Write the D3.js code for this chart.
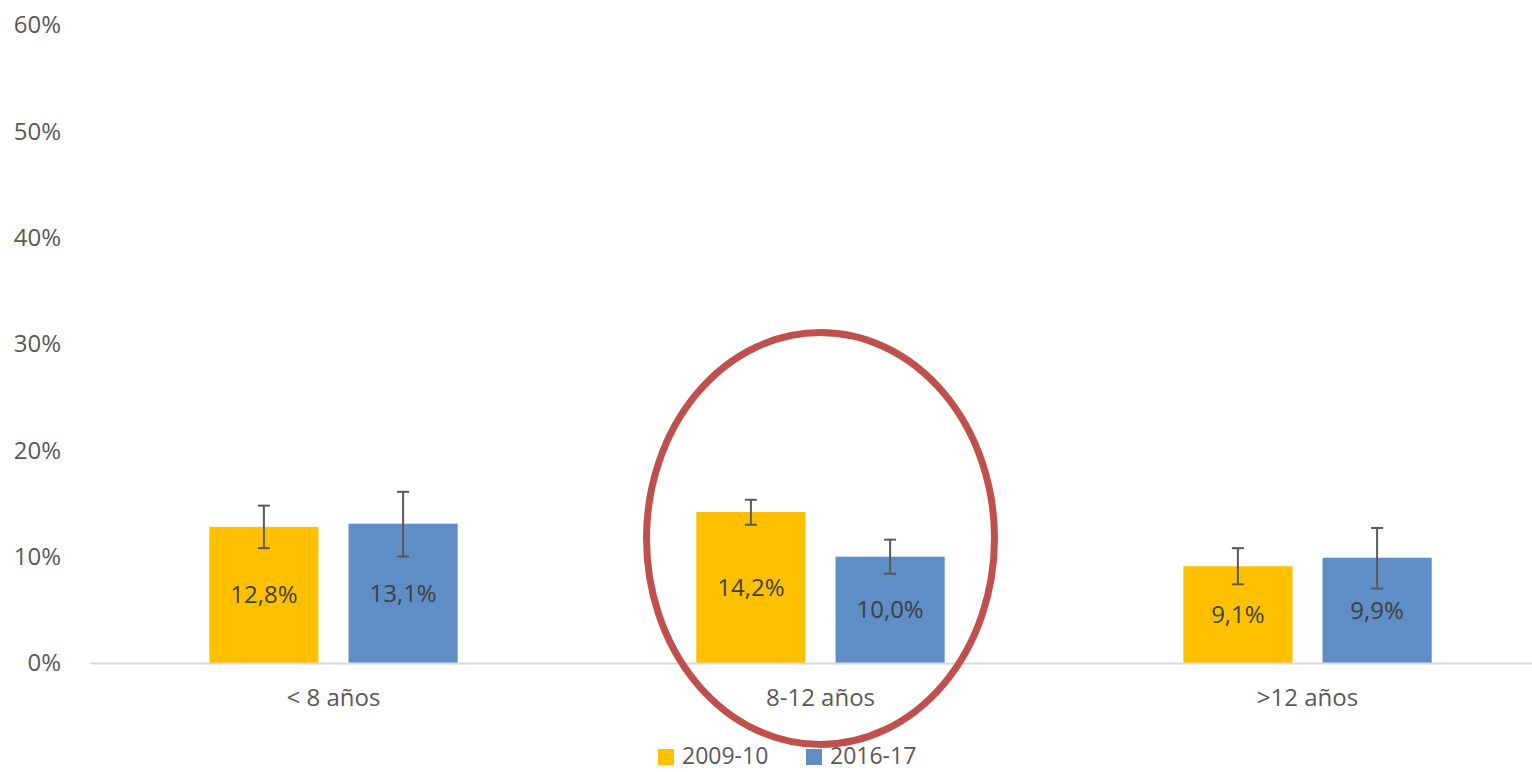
<!DOCTYPE html>
<html>
<head>
<meta charset="utf-8">
<script src="https://cdn.jsdelivr.net/npm/d3@7"></script>
<style>
  body { margin: 0; background: #fff; }
  svg text { font-family: "Open Sans", sans-serif; }
</style>
</head>
<body>
<div id="chart"></div>
<script>
var categories = ['< 8 años', '8-12 años', '>12 años'];
var seriesNames = ['2009-10', '2016-17'];
var values2009 = [12.8, 14.2, 9.1];
var values2016 = [13.1, 10.0, 9.9];
var errHigh2009 = [14.8, 15.35, 10.8];
var errLow2009 = [10.8, 13.0, 7.4];
var errHigh2016 = [16.1, 11.6, 12.7];
var errLow2016 = [10.0, 8.4, 7.0];
var yTicks = [0, 10, 20, 30, 40, 50, 60];

var width = 1532, height = 772;
var colors = ['#FFC000', '#5F8DC5'];

var chartData = [];
categories.forEach(function (c, i) {
    chartData.push({ cat: c, s: 0, value: values2009[i], hi: errHigh2009[i], lo: errLow2009[i] });
    chartData.push({ cat: c, s: 1, value: values2016[i], hi: errHigh2016[i], lo: errLow2016[i] });
});

var svg = d3.select('#chart').append('svg')
    .attr('width', width)
    .attr('height', height);

var x0 = d3.scaleBand()
    .domain(categories)
    .range([90, 1551])
    .paddingInner(0.49)
    .paddingOuter(0.245);

var x1 = d3.scaleBand()
    .domain([0, 1])
    .range([0, x0.bandwidth()])
    .paddingInner(0.216);

var y = d3.scaleLinear()
    .domain([0, 60])
    .range([663, 25]);

// y tick labels (no axis line, no gridlines)
svg.selectAll('.ytick')
    .data(yTicks)
    .enter().append('text')
    .attr('class', 'ytick')
    .attr('x', 61)
    .attr('y', function (d) { return y(d); })
    .attr('dy', '.35em')
    .attr('text-anchor', 'end')
    .attr('fill', '#595959')
    .style('font-size', '24px')
    .text(function (d) { return d + '%'; });

// bars
var bar = svg.selectAll('.bar')
    .data(chartData)
    .enter().append('g')
    .attr('class', 'bar')
    .attr('transform', function (d) { return 'translate(' + (x0(d.cat) + x1(d.s)) + ',0)'; });

bar.append('rect')
    .attr('y', function (d) { return y(d.value); })
    .attr('width', x1.bandwidth())
    .attr('height', function (d) { return y(0) - y(d.value); })
    .attr('fill', function (d) { return colors[d.s]; });

bar.append('text')
    .attr('x', x1.bandwidth() / 2)
    .attr('y', function (d) { return (y(d.value) + y(0)) / 2; })
    .attr('dy', '.35em')
    .attr('text-anchor', 'middle')
    .attr('fill', '#404040')
    .style('font-size', '24px')
    .text(function (d) { return d.value.toFixed(1).replace('.', ',') + '%'; });

// x axis line
var xAxis = d3.axisBottom(x0).tickSize(0).tickPadding(26);
var gx = svg.append('g')
    .attr('transform', 'translate(0,' + y(0) + ')')
    .call(xAxis);
gx.select('.domain').attr('stroke', '#D9D9D9').attr('stroke-width', 2);
gx.selectAll('text')
    .attr('fill', '#595959')
    .style('font-size', '24px')
    .style('font-family', '"Open Sans", sans-serif');

// error bars
var cap = 6;
bar.append('line')
    .attr('x1', x1.bandwidth() / 2).attr('x2', x1.bandwidth() / 2)
    .attr('y1', function (d) { return y(d.hi); })
    .attr('y2', function (d) { return y(d.lo); })
    .attr('stroke', '#595959').attr('stroke-width', 2);
bar.append('line')
    .attr('x1', x1.bandwidth() / 2 - cap).attr('x2', x1.bandwidth() / 2 + cap)
    .attr('y1', function (d) { return y(d.hi); })
    .attr('y2', function (d) { return y(d.hi); })
    .attr('stroke', '#595959').attr('stroke-width', 2);
bar.append('line')
    .attr('x1', x1.bandwidth() / 2 - cap).attr('x2', x1.bandwidth() / 2 + cap)
    .attr('y1', function (d) { return y(d.lo); })
    .attr('y2', function (d) { return y(d.lo); })
    .attr('stroke', '#595959').attr('stroke-width', 2);

// highlight ellipse around middle group
svg.append('ellipse')
    .attr('cx', x0(categories[1]) + x0.bandwidth() / 2)
    .attr('cy', 538.5)
    .attr('rx', 174)
    .attr('ry', 206)
    .attr('fill', 'none')
    .attr('stroke', '#C0504D')
    .attr('stroke-width', 7);

// legend
var legendX = [658, 806];
var legend = svg.selectAll('.legend')
    .data(seriesNames)
    .enter().append('g')
    .attr('class', 'legend')
    .attr('transform', function (d, i) { return 'translate(' + legendX[i] + ',749)'; });

legend.append('rect')
    .attr('width', 16)
    .attr('height', 16)
    .attr('fill', function (d, i) { return colors[i]; });

legend.append('text')
    .attr('x', 24)
    .attr('y', 15)
    .attr('fill', '#595959')
    .style('font-size', '23px')
    .text(function (d) { return d; });
</script>
</body>
</html>
